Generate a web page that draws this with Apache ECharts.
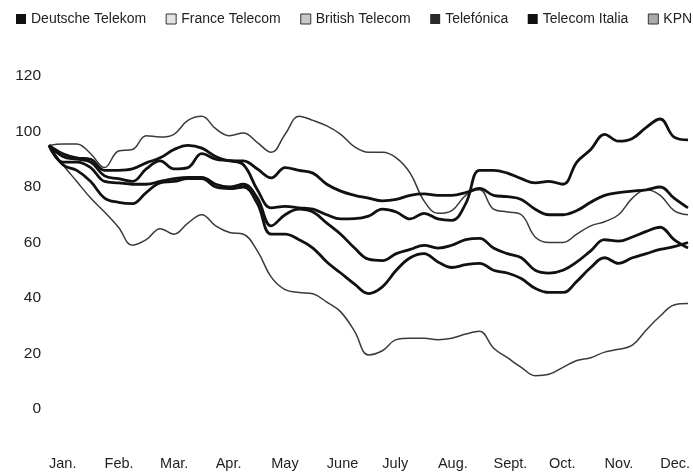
<!DOCTYPE html>
<html>
<head>
<meta charset="utf-8">
<title>Telecom shares</title>
<script src="https://cdn.jsdelivr.net/npm/echarts@6/dist/echarts.min.js"></script>
<style>
    html, body {margin: 0; padding: 0; background: #fff;}
    #main {width: 693px; height: 473px;}
</style>
</head>
<body>
<div id="main"></div>
<script>
// month labels, 4 points per month
var months = ['Jan.', 'Feb.', 'Mar.', 'Apr.', 'May', 'June', 'July', 'Aug.', 'Sept.', 'Oct.', 'Nov.', 'Dec.']
var yTicks = [0, 20, 40, 60, 80, 100, 120]

// values
var deutscheTelekom = [95, 89, 89, 87, 82, 81.5, 81, 81, 82, 83, 83.5, 83.5, 81, 80, 81, 76, 66, 70, 72, 71, 67, 63, 58, 54, 53.5, 56, 57.5, 59, 58, 59, 61, 61.5, 58, 56, 54.5, 50, 49, 50, 53, 57, 61, 60.5, 62, 64, 65.5, 61, 58]
var franceTelecom = [95, 88, 86, 82, 76, 74.5, 74, 78, 81.5, 82, 83, 83, 80, 79.4, 80, 74, 63, 63, 61, 58, 53, 49, 45, 41.6, 44, 50, 54.5, 56, 53, 51, 52, 52.5, 50, 49, 47, 43.5, 42, 42, 46, 51, 54.5, 52.5, 54.5, 56, 57.5, 58.5, 60]
var britishTelecom = [95, 95.5, 95.5, 92, 87, 93, 93.5, 98.5, 98, 99, 104, 105.5, 101, 98.5, 99.5, 96, 92.5, 99, 105.5, 104, 102, 99, 94.5, 92.5, 92.5, 90.5, 85, 75, 70.5, 71.5, 77, 79, 72, 71, 70, 62, 60, 60, 63, 66, 67.5, 70, 76, 79, 77, 71.5, 70]
var telefonica = [95, 92, 90.5, 90, 86, 86, 86.5, 88.7, 90.5, 93.5, 95, 94, 91, 89.5, 89.4, 86.5, 83.3, 87, 86, 85, 81, 78.5, 77, 76, 75, 75.5, 77, 77.5, 77, 77, 78, 79.5, 77, 76.5, 75.5, 72, 70, 70, 71.5, 74.5, 77, 78, 78.5, 79, 80, 76, 72.5]
var telecomItalia = [95, 91, 90, 89, 84, 83, 82, 86.5, 89.4, 86.5, 87, 92, 90, 89.4, 88, 79, 72.5, 73, 72.5, 72, 70, 68.5, 68.6, 69.5, 72, 71, 68.5, 70.5, 68.5, 68, 74, 86, 86, 85, 83, 81.5, 82, 81, 89, 93.5, 99, 96.5, 97.5, 101.5, 104.5, 98, 97]
var kpn = [95, 88, 82, 76, 71, 65.5, 59, 61, 65, 63, 67, 70, 66, 63.6, 63, 57, 47.5, 43, 42, 41.5, 38.5, 35, 28, 19.5, 21, 25, 25.5, 25.5, 25, 25.5, 27, 28, 22, 18.5, 15, 12, 12.5, 15, 17.5, 18.5, 20.5, 21.5, 23, 28.5, 33.5, 37.5, 38]

var categories = []
for (var i = 0; i < deutscheTelekom.length; i++) {
    categories.push(i % 4 == 0 ? months[i / 4] : '')
}

var font = "'Liberation Sans', Arial, Helvetica, sans-serif"

function thick(name, data) {
    return {
        name: name, type: 'line', data: data, smooth: 0.4,
        symbol: 'none', z: 3,
        lineStyle: {color: '#111', width: 2.8}
    }
}
function thin(name, data) {
    return {
        name: name, type: 'line', data: data, smooth: 0.4,
        symbol: 'none', z: 2,
        lineStyle: {color: '#3a3a3a', width: 1.5}
    }
}

var option = {
    animation: false,
    backgroundColor: '#fff',
    color: ['#111', '#ddd', '#bbb', '#222', '#111', '#999'],
    legend: {
        left: 11,
        top: 7,
        width: 720,
        itemWidth: 10,
        itemHeight: 10,
        itemGap: 19.5,
        icon: 'rect',
        textStyle: {fontFamily: font, fontSize: 14, color: '#222'},
        data: [
            {name: 'Deutsche Telekom', itemStyle: {color: '#111'}},
            {name: 'France Telecom', itemStyle: {color: '#e4e4e4', borderColor: '#333', borderWidth: 1}},
            {name: 'British Telecom', itemStyle: {color: '#c8c8c8', borderColor: '#333', borderWidth: 1}},
            {name: 'Telefónica', itemStyle: {color: '#2a2a2a'}},
            {name: 'Telecom Italia', itemStyle: {color: '#111'}},
            {name: 'KPN', itemStyle: {color: '#aaa', borderColor: '#333', borderWidth: 1}}
        ]
    },
    grid: {left: 49, right: 5, top: 76, bottom: 64},
    xAxis: {
        type: 'category',
        boundaryGap: false,
        data: categories,
        axisLine: {show: false},
        axisTick: {show: false},
        axisLabel: {
            interval: 3,
            align: 'left',
            margin: 47,
            fontFamily: font, fontSize: 14.5, color: '#222'
        }
    },
    yAxis: {
        type: 'value',
        min: yTicks[0],
        max: yTicks[yTicks.length - 1],
        interval: 20,
        axisLine: {show: false},
        axisTick: {show: false},
        splitLine: {show: false},
        axisLabel: {margin: 8, fontFamily: font, fontSize: 15.5, color: '#222'}
    },
    series: [
        thick('Deutsche Telekom', deutscheTelekom),
        thick('France Telecom', franceTelecom),
        thin('British Telecom', britishTelecom),
        thick('Telefónica', telefonica),
        thick('Telecom Italia', telecomItalia),
        thin('KPN', kpn)
    ]
};
var myChart = echarts.init(document.getElementById('main'));
myChart.setOption(option);
</script>
</body>
</html>
